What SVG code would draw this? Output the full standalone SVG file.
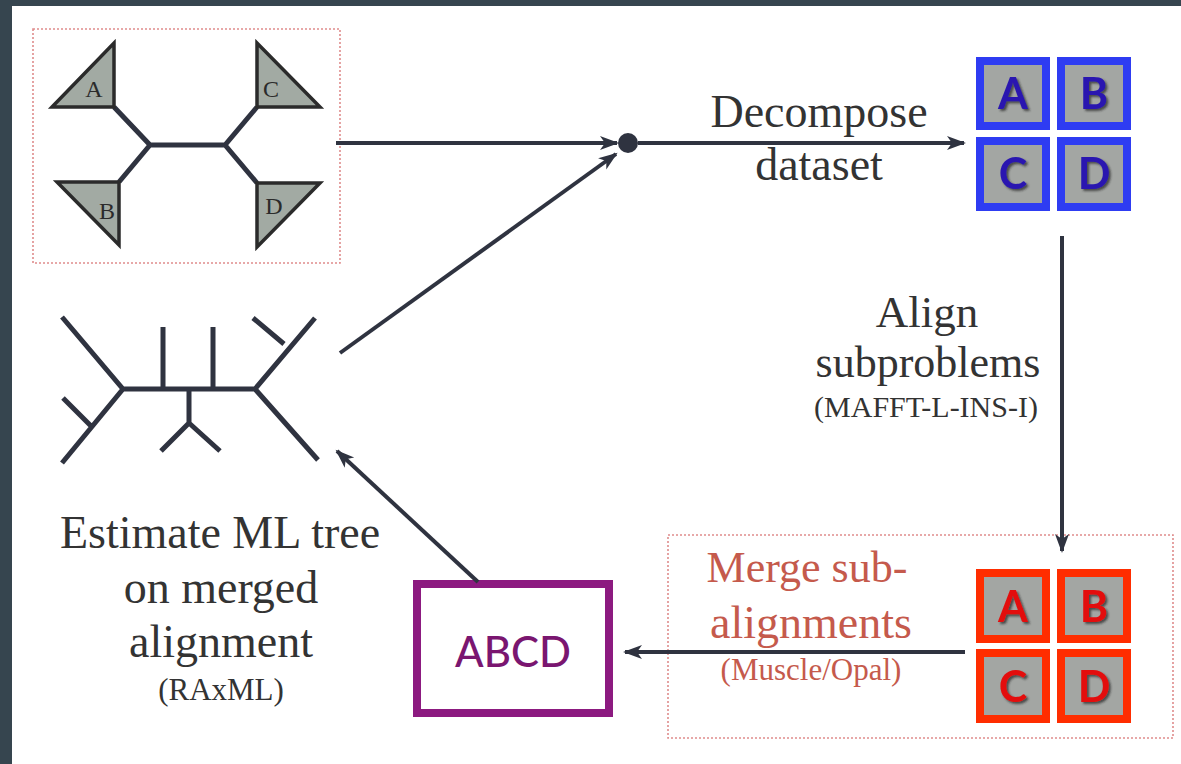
<svg xmlns="http://www.w3.org/2000/svg" width="1181" height="764" viewBox="0 0 1181 764">
<style>
.serif{font-family:"Liberation Serif","Times New Roman",serif;fill:#333333;text-anchor:middle}
.merge{font-family:"Liberation Serif","Times New Roman",serif;fill:#c55a4c;text-anchor:middle}
.conn{stroke:#2f3340;stroke-width:4;fill:none;marker-end:url(#ah)}
.dash{fill:#ffffff;stroke:#df8c8c;stroke-width:1.6;stroke-dasharray:2 2}
.tri{fill:#a2aaa3;stroke:#2b2b2b;stroke-width:3.5;stroke-linejoin:miter}
.br{stroke:#2f3340;stroke-width:5;fill:none;stroke-linecap:butt}
.cellB{fill:#a3a6a3;stroke:#2e3cf2;stroke-width:8}
.cellR{fill:#a3a6a3;stroke:#ff2d00;stroke-width:8}
.gl{font-family:Lato,"Open Sans",sans-serif;font-weight:700;font-size:43px;text-anchor:middle}
.tl{font-family:"Liberation Serif","Times New Roman",serif;font-size:24px;fill:#2b2b2b;text-anchor:middle}
</style>
<defs>
<marker id="ah" markerUnits="userSpaceOnUse" markerWidth="20" markerHeight="16" refX="17" refY="8" orient="auto">
<path d="M0,1 L19,8 L0,15 L5,8 Z" fill="#2f3340"/>
</marker>
<filter id="sh" x="-20%" y="-20%" width="150%" height="150%">
<feDropShadow dx="2" dy="2" stdDeviation="1" flood-color="#222" flood-opacity="0.7"/>
</filter>
</defs>
<rect x="0" y="0" width="1181" height="764" fill="#ffffff"/>
<rect x="0" y="0" width="1181" height="6" fill="#36454f"/>
<rect x="0" y="0" width="12" height="764" fill="#36454f"/>

<g id="guide-tree">
<rect class="dash" x="33" y="29" width="307" height="234"/>
<path class="br" d="M114,107 L150,145 L225,145 L257,107 M119,182 L150,145 M225,145 L257,183"/>
<polygon class="tri" points="52,107 114,43 114,107"/>
<polygon class="tri" points="57,182 119,182 119,245"/>
<polygon class="tri" points="257,43 257,107 320,107"/>
<polygon class="tri" points="257,183 320,183 257,247"/>
<text class="tl" x="94" y="97">A</text>
<text class="tl" x="107" y="219">B</text>
<text class="tl" x="271" y="97">C</text>
<text class="tl" x="274" y="214">D</text>
</g>

<g id="decompose-point">
<circle cx="628" cy="143" r="10" fill="#2f3340"/>
</g>

<g id="decompose-label">
<text class="serif" x="819" y="127" font-size="46">Decompose</text>
<text class="serif" x="819" y="180" font-size="46">dataset</text>
</g>

<g id="subsets-blue">
<rect class="cellB" x="980" y="61" width="66" height="65"/>
<rect class="cellB" x="1061" y="61" width="66" height="65"/>
<rect class="cellB" x="980" y="141" width="66" height="66"/>
<rect class="cellB" x="1061" y="141" width="66" height="66"/>
<g filter="url(#sh)">
<text class="gl" x="1013" y="109" fill="#2a18b0">A</text>
<text class="gl" x="1094" y="109" fill="#2a18b0">B</text>
<text class="gl" x="1013" y="189" fill="#2a18b0">C</text>
<text class="gl" x="1094" y="189" fill="#2a18b0">D</text>
</g>
</g>

<g id="align-label">
<text class="serif" x="927" y="327" font-size="45">Align</text>
<text class="serif" x="928" y="377" font-size="44">subproblems</text>
<text class="serif" x="926" y="417" font-size="30">(MAFFT-L-INS-I)</text>
</g>

<g id="merge-box">
<rect class="dash" x="668" y="535" width="505" height="203"/>
<text class="merge" x="807" y="582" font-size="44">Merge sub-</text>
<text class="merge" x="811" y="638" font-size="46">alignments</text>
<text class="merge" x="811" y="680" font-size="31" fill="#d0685a">(Muscle/Opal)</text>
</g>

<g id="subsets-red">
<rect class="cellR" x="980" y="573" width="66" height="66"/>
<rect class="cellR" x="1061" y="573" width="66" height="66"/>
<rect class="cellR" x="980" y="653" width="66" height="66"/>
<rect class="cellR" x="1061" y="653" width="66" height="66"/>
<g filter="url(#sh)">
<text class="gl" x="1013" y="622" fill="#e3100c">A</text>
<text class="gl" x="1094" y="622" fill="#e3100c">B</text>
<text class="gl" x="1013" y="702" fill="#e3100c">C</text>
<text class="gl" x="1094" y="702" fill="#e3100c">D</text>
</g>
</g>

<g id="abcd">
<rect x="417" y="584" width="192" height="129" fill="#ffffff" stroke="#8c1a80" stroke-width="8"/>
<text x="513" y="667" font-family="Lato,'Open Sans',sans-serif" font-size="42" font-weight="500" fill="#7a1670" text-anchor="middle">ABCD</text>
</g>

<g id="ml-tree">
<path class="br" d="M62,317 L123,389 L255,389 L315,318 M284,344 L253,318 M255,389 L318,460 M123,389 L62,463 M92,427 L63,398 M163,389 L163,327 M213,389 L213,327 M189,389 L189,423 L161,451 M189,423 L220,451"/>
</g>

<g id="ml-label">
<text class="serif" x="220" y="548" font-size="46">Estimate ML tree</text>
<text class="serif" x="221" y="603" font-size="46">on merged</text>
<text class="serif" x="221" y="657" font-size="46">alignment</text>
<text class="serif" x="221" y="700" font-size="31">(RAxML)</text>
</g>

<g id="connectors">
<path class="conn" d="M336,143 L617,143"/>
<path class="conn" d="M340,353 L616,154"/>
<path class="conn" d="M638,143 L964,143"/>
<path class="conn" d="M1062,236 L1062,551"/>
<path class="conn" d="M965,652 L625,652"/>
<path class="conn" d="M478,582 L337,451"/>
</g>
</svg>
